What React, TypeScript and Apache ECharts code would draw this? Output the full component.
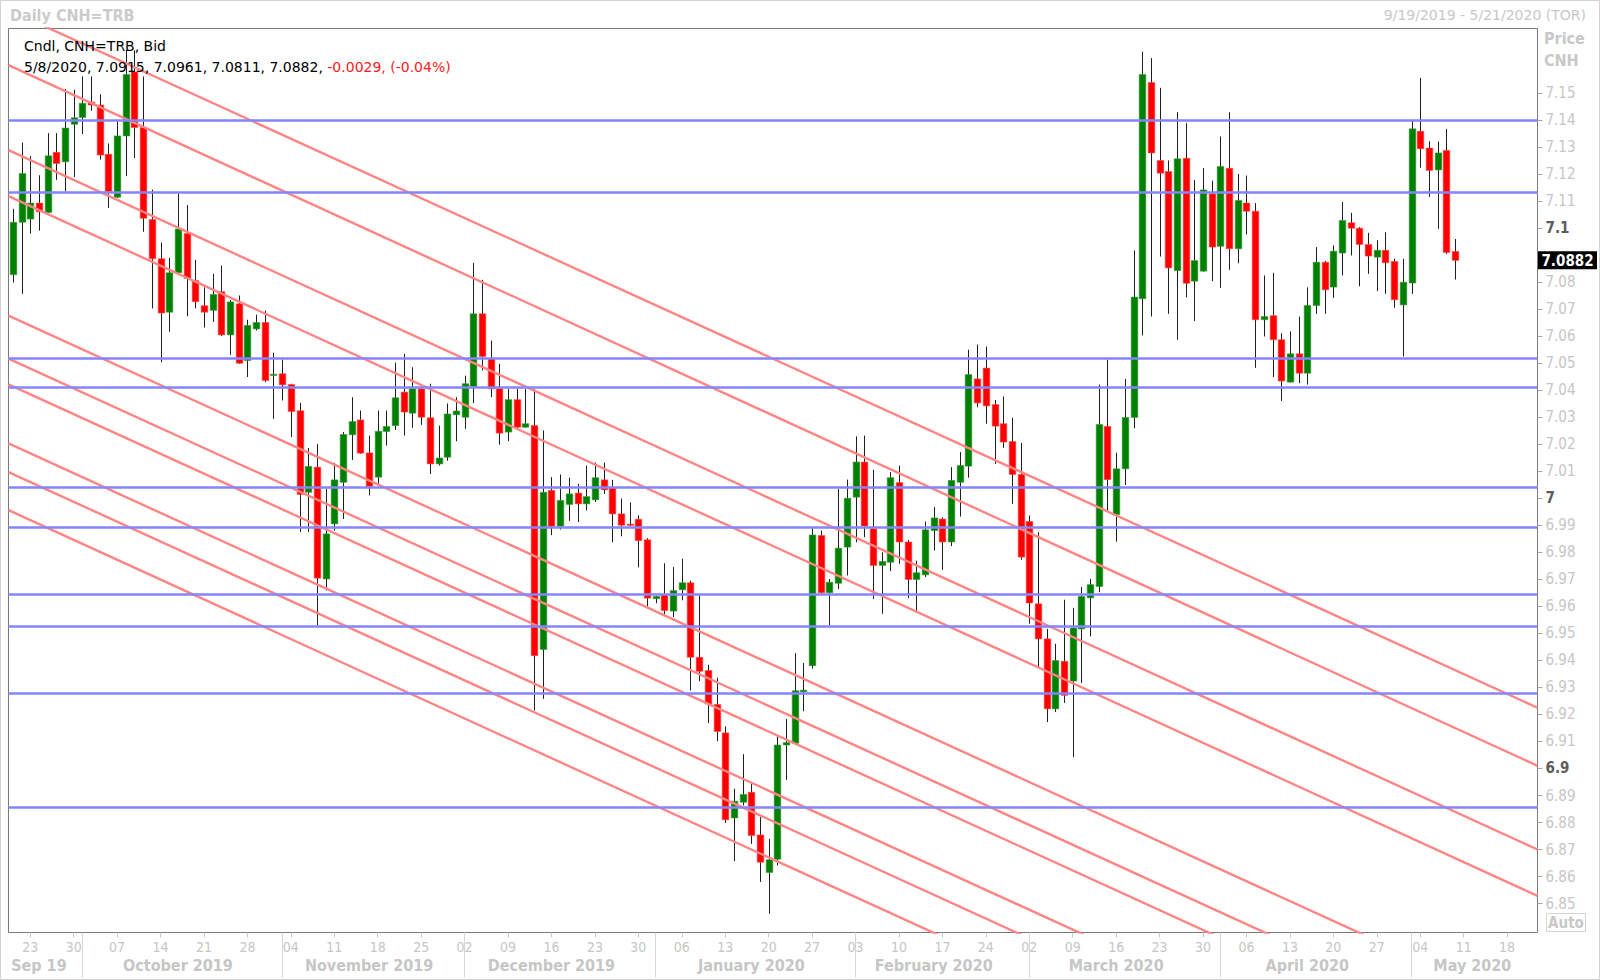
import React, { useEffect, useRef } from "react";
import * as echarts from "echarts";

// ---------------- data ----------------
const START_DATE = "2019-09-19";
const END_DATE = "2020-05-21";

const openP = [
  7.0829, 7.1023, 7.1035, 7.1094, 7.1059, 7.1282, 7.1247, 7.1386, 7.1411, 7.1468,
  7.1457, 7.1275, 7.1116, 7.1343, 7.1580, 7.1374, 7.1033, 7.0888, 7.0690, 7.0836,
  7.0981, 7.0807, 7.0714, 7.0697, 7.0766, 7.0606, 7.0721, 7.0511, 7.0628, 7.0652,
  7.0458, 7.0462, 7.0422, 7.0325, 7.0023, 7.0116, 6.9702, 6.9906, 7.0060, 7.0236,
  7.0291, 7.0169, 7.0079, 7.0248, 7.0270, 7.0394, 7.0316, 7.0406, 7.0299, 7.0128,
  7.0153, 7.0310, 7.0301, 7.0415, 7.0684, 7.0517, 7.0406, 7.0246, 7.0366, 7.0264,
  7.0270, 6.9441, 7.0030, 6.9897, 6.9978, 7.0020, 6.9980, 6.9995, 7.0069, 7.0039,
  6.9943, 6.9905, 6.9923, 6.9847, 6.9629, 6.9643, 6.9583, 6.9662, 6.9688, 6.9412,
  6.9363, 6.9237, 6.9132, 6.8817, 6.8875, 6.8912, 6.8754, 6.8615, 6.8664, 6.9087,
  6.9093, 6.9284, 6.9381, 6.9863, 6.9651, 6.9686, 6.9820, 7.0005, 7.0135, 6.9888,
  6.9752, 6.9764, 7.0059, 6.9839, 6.9700, 6.9717, 6.9881, 6.9924, 6.9839, 7.0060,
  7.0120, 7.0443, 7.0483, 7.0348, 7.0277, 7.0211, 7.0089, 6.9915, 6.9610, 6.9480,
  6.9221, 6.9397, 6.9324, 6.9517, 6.9632, 6.9674, 7.0267, 6.9940, 7.0110, 7.0300,
  7.0740, 7.1541, 7.1252, 7.1211, 7.0844, 7.1260, 7.0805, 7.0842, 7.1128, 7.0934,
  7.1223, 7.0925, 7.1094, 7.1064, 7.0662, 7.0677, 7.0588, 7.0431, 7.0536, 7.0464,
  7.0715, 7.0875, 7.0783, 7.0909, 7.1021, 7.1001, 7.0941, 7.0894, 7.0919, 7.0878,
  7.0717, 7.0798, 7.1360, 7.1298, 7.1217, 7.1289, 7.0915,
];

const highP = [
  7.1073, 7.1318, 7.1268, 7.1197, 7.1353, 7.1353, 7.1517, 7.1514, 7.1563, 7.1563,
  7.1497, 7.1315, 7.1396, 7.1660, 7.1660, 7.1563, 7.1144, 7.0948, 7.0891, 7.1130,
  7.1087, 7.0884, 7.0782, 7.0832, 7.0863, 7.0735, 7.0752, 7.0662, 7.0681, 7.0696,
  7.0540, 7.0515, 7.0425, 7.0354, 7.0187, 7.0202, 7.0036, 7.0132, 7.0246, 7.0375,
  7.0326, 7.0233, 7.0326, 7.0326, 7.0503, 7.0536, 7.0486, 7.0410, 7.0425, 7.0270,
  7.0352, 7.0375, 7.0455, 7.0872, 7.0810, 7.0585, 7.0499, 7.0406, 7.0406, 7.0406,
  7.0406, 7.0252, 7.0079, 7.0089, 7.0077, 7.0054, 7.0122, 7.0133, 7.0133, 7.0069,
  7.0000, 6.9985, 6.9938, 6.9853, 6.9640, 6.9760, 6.9746, 6.9777, 6.9696, 6.9641,
  6.9384, 6.9336, 6.9156, 6.8925, 6.9053, 6.8943, 6.8820, 6.8739, 6.9121, 6.9183,
  6.9427, 6.9391, 6.9890, 6.9881, 6.9702, 7.0035, 7.0070, 7.0230, 7.0233, 7.0106,
  6.9801, 7.0098, 7.0122, 6.9847, 6.9770, 6.9915, 6.9968, 6.9930, 7.0116, 7.0172,
  7.0551, 7.0570, 7.0563, 7.0365, 7.0378, 7.0299, 7.0206, 6.9937, 6.9875, 6.9517,
  6.9462, 6.9625, 6.9595, 6.9672, 6.9702, 7.0422, 7.0514, 7.0170, 7.0443, 7.0919,
  7.1655, 7.1631, 7.1521, 7.1252, 7.1431, 7.1390, 7.1180, 7.1224, 7.1177, 7.1341,
  7.1431, 7.1202, 7.1196, 7.1094, 7.0826, 7.0836, 7.0612, 7.0619, 7.0674, 7.0782,
  7.0931, 7.0880, 7.0937, 7.1098, 7.1058, 7.1005, 7.0984, 7.0956, 7.0986, 7.0888,
  7.0888, 7.1402, 7.1558, 7.1323, 7.1322, 7.1369, 7.0961,
];

const lowP = [
  7.0800, 7.0758, 7.0981, 7.0992, 7.1056, 7.1180, 7.1137, 7.1191, 7.1350, 7.1436,
  7.1255, 7.1076, 7.1113, 7.1194, 7.1261, 7.0988, 7.0704, 7.0505, 7.0618, 7.0832,
  7.0675, 7.0704, 7.0633, 7.0654, 7.0602, 7.0532, 7.0499, 7.0450, 7.0622, 7.0431,
  7.0295, 7.0363, 7.0227, 6.9876, 6.9876, 6.9530, 6.9659, 6.9881, 6.9924, 7.0143,
  7.0165, 7.0011, 7.0054, 7.0196, 7.0254, 7.0233, 7.0262, 7.0273, 7.0091, 7.0122,
  7.0140, 7.0212, 7.0258, 7.0353, 7.0474, 7.0375, 7.0199, 7.0212, 7.0260, 7.0262,
  6.9215, 6.9258, 6.9864, 6.9885, 6.9917, 6.9913, 6.9956, 6.9987, 7.0017, 6.9838,
  6.9860, 6.9897, 6.9745, 6.9600, 6.9612, 6.9568, 6.9561, 6.9623, 6.9289, 6.9323,
  6.9168, 6.9101, 6.8798, 6.8657, 6.8863, 6.8721, 6.8580, 6.8462, 6.8641, 6.8958,
  6.9090, 6.9212, 6.9370, 6.9647, 6.9530, 6.9665, 6.9715, 6.9838, 6.9857, 6.9628,
  6.9573, 6.9731, 6.9758, 6.9631, 6.9579, 6.9709, 6.9807, 6.9736, 6.9824, 6.9933,
  7.0077, 7.0338, 7.0277, 7.0128, 7.0188, 6.9980, 6.9773, 6.9536, 6.9376, 6.9172,
  6.9209, 6.9243, 6.9042, 6.9316, 6.9489, 6.9653, 6.9950, 6.9840, 7.0050, 7.0260,
  7.0604, 7.0674, 7.0896, 7.0684, 7.0588, 7.0745, 7.0657, 7.0840, 7.0805, 7.0780,
  7.0847, 7.0871, 7.0978, 7.0484, 7.0600, 7.0450, 7.0361, 7.0430, 7.0427, 7.0422,
  7.0684, 7.0684, 7.0743, 7.0826, 7.0900, 7.0786, 7.0832, 7.0768, 7.0758, 7.0706,
  7.0526, 7.0758, 7.1225, 7.1117, 7.0999, 7.0905, 7.0811,
];

const closeP = [
  7.1023, 7.1204, 7.1094, 7.1062, 7.1269, 7.1241, 7.1372, 7.1410, 7.1464, 7.1457,
  7.1272, 7.1137, 7.1343, 7.1570, 7.1374, 7.1038, 7.0888, 7.0687, 7.0836, 7.0998,
  7.0815, 7.0729, 7.0690, 7.0756, 7.0606, 7.0728, 7.0501, 7.0641, 7.0652, 7.0437,
  7.0460, 7.0421, 7.0322, 7.0015, 7.0119, 6.9705, 6.9869, 7.0069, 7.0237, 7.0285,
  7.0168, 7.0044, 7.0249, 7.0267, 7.0373, 7.0320, 7.0406, 7.0301, 7.0128, 7.0150,
  7.0313, 7.0324, 7.0425, 7.0684, 7.0526, 7.0406, 7.0242, 7.0366, 7.0264, 7.0277,
  6.9418, 7.0023, 6.9897, 6.9993, 7.0017, 6.9980, 7.0007, 7.0077, 7.0032, 6.9943,
  6.9901, 6.9902, 6.9844, 6.9631, 6.9637, 6.9585, 6.9659, 6.9688, 6.9412, 6.9360,
  6.9239, 6.9137, 6.8810, 6.8879, 6.8904, 6.8752, 6.8653, 6.8662, 6.9087, 6.9096,
  6.9288, 6.9290, 6.9865, 6.9651, 6.9690, 6.9816, 7.0001, 7.0135, 6.9898, 6.9752,
  6.9767, 7.0077, 6.9839, 6.9700, 6.9725, 6.9884, 6.9928, 6.9839, 7.0067, 7.0122,
  7.0459, 7.0354, 7.0343, 7.0268, 7.0209, 7.0089, 6.9783, 6.9613, 6.9480, 6.9221,
  6.9400, 6.9271, 6.9520, 6.9637, 6.9681, 7.0274, 7.0070, 7.0110, 7.0300, 7.0746,
  7.1570, 7.1280, 7.1205, 7.0854, 7.1258, 7.0797, 7.0881, 7.1143, 7.0931, 7.1230,
  7.0925, 7.1104, 7.1064, 7.0662, 7.0674, 7.0588, 7.0435, 7.0536, 7.0464, 7.0715,
  7.0875, 7.0773, 7.0916, 7.1030, 7.1001, 7.0941, 7.0898, 7.0919, 7.0873, 7.0736,
  7.0801, 7.1369, 7.1295, 7.1215, 7.1280, 7.0911, 7.0882,
];

// horizontal support / resistance levels (blue)
const levelLines = [7.14, 7.1133, 7.0521, 7.0411, 7.0042, 6.9894, 6.9645, 6.9527, 6.928, 6.8858];

// parallel downward trend lines (red): value at the left edge and at the right edge of the plot
const trendLeft = [7.181, 7.1605, 7.129, 7.112, 7.0677, 7.0518, 7.0423, 7.0204, 7.0098, 6.9957];
const trendRight = [6.9225, 6.901, 6.87, 6.8528, 6.809, 6.7931, 6.7836, 6.7617, 6.7511, 6.737];

// y axis
const Y_MIN = 6.83926;
const Y_MAX = 7.17407;
const yTickValues = [
  6.85, 6.86, 6.87, 6.88, 6.89, 6.9, 6.91, 6.92, 6.93, 6.94, 6.95, 6.96, 6.97, 6.98, 6.99,
  7.0, 7.01, 7.02, 7.03, 7.04, 7.05, 7.06, 7.07, 7.08, 7.1, 7.11, 7.12, 7.13, 7.14, 7.15,
];

const monthNames = [
  "Sep 19", "October 2019", "November 2019", "December 2019", "January 2020",
  "February 2020", "March 2020", "April 2020", "May 2020",
];

const lastPrice = 7.0882;
const titleText = "Daily CNH=TRB";
const rangeText = "9/19/2019 - 5/21/2020 (TOR)";
const legendLine1 = "Cndl, CNH=TRB, Bid";
const legendDate = "5/8/2020";
const legendChange = "-0.0029, (-0.04%)";

// ---------------- helpers ----------------
function weekdays(start: string, end: string): string[] {
  const out: string[] = [];
  const d = new Date(start + "T00:00:00Z");
  const e = new Date(end + "T00:00:00Z");
  while (d <= e) {
    const wd = d.getUTCDay();
    if (wd !== 0 && wd !== 6) out.push(d.toISOString().slice(0, 10));
    d.setUTCDate(d.getUTCDate() + 1);
  }
  return out;
}

const FONT = "'DejaVu Sans', sans-serif";
const FONT_C = "'DejaVu Sans Condensed', 'DejaVu Sans', sans-serif";
const GREY_TXT = "#c6c6c6";

const GRID_LEFT = 8.5;
const GRID_RIGHT = 62.5;
const GRID_TOP = 28.5;
const GRID_BOTTOM = 47.5;
const W = 1600;
const H = 980;

function buildOption() {
  const dates = weekdays(START_DATE, END_DATE);
  const N = dates.length;
  const isMonday = (s: string) => new Date(s + "T00:00:00Z").getUTCDay() === 1;

  // month groups
  const groups: { start: number; end: number }[] = [];
  dates.forEach((s, i) => {
    const key = s.slice(0, 7);
    if (i === 0 || key !== dates[i - 1].slice(0, 7)) groups.push({ start: i, end: i });
    else groups[groups.length - 1].end = i;
  });
  const monthStart = new Set(groups.slice(1).map((g) => g.start));
  const monthMid = new Map<number, number>();
  groups.forEach((g, k) => monthMid.set(Math.floor((g.start + g.end) / 2), k));

  const candleData = openP.map((o, i) => [i, o, closeP[i], lowP[i], highP[i]]);

  const candleSeries: any = {
    type: "custom",
    name: "CNH=TRB",
    xAxisIndex: 0,
    yAxisIndex: 0,
    clip: true,
    z: 2,
    silent: true,
    encode: { x: 0, y: [1, 2, 3, 4] },
    data: candleData,
    renderItem: (params: any, api: any) => {
      const x = api.value(0);
      const o = api.value(1);
      const c = api.value(2);
      const l = api.value(3);
      const h = api.value(4);
      const pO = api.coord([x, o]);
      const pC = api.coord([x, c]);
      const pL = api.coord([x, l]);
      const pH = api.coord([x, h]);
      const w = api.size([1, 0])[0] * 0.76;
      const up = c >= o;
      const top = Math.min(pO[1], pC[1]);
      const ht = Math.max(1.2, Math.abs(pO[1] - pC[1]));
      const cx = Math.round(pO[0]) + 0.5;
      return {
        type: "group",
        children: [
          {
            type: "line",
            shape: { x1: cx, y1: pH[1], x2: cx, y2: pL[1] },
            style: { stroke: "#1e1e1e", lineWidth: 1 },
          },
          {
            type: "rect",
            shape: { x: cx - w / 2, y: top, width: w, height: ht },
            style: { fill: up ? "#008000" : "#ff0000", stroke: up ? "#3a9a3a" : "#ff4a4a", lineWidth: 0.6 },
          },
        ],
      };
    },
  };

  const trendSeries: any[] = trendLeft.map((lv, k) => ({
    type: "line",
    name: "trend" + k,
    xAxisIndex: 1,
    yAxisIndex: 0,
    data: [
      [-0.5, lv],
      [N - 0.5, trendRight[k]],
    ],
    symbol: "none",
    silent: true,
    clip: true,
    z: 3,
    lineStyle: { color: "#ff8585", width: 2.4 },
  }));

  trendSeries[0].markLine = {
    silent: true,
    symbol: ["none", "none"],
    animation: false,
    precision: 4,
    z: 4,
    label: { show: false },
    lineStyle: { color: "#8585ff", width: 2.6, type: "solid" },
    data: levelLines.map((v) => ({ yAxis: v })),
  };

  const isMajor = (v: number) => Math.abs(v * 10 - Math.round(v * 10)) < 1e-6;

  return {
    animation: false,
    backgroundColor: "#ffffff",
    grid: {
      left: GRID_LEFT,
      right: GRID_RIGHT,
      top: GRID_TOP,
      bottom: GRID_BOTTOM,
      show: true,
      borderColor: "#7a7a7a",
      borderWidth: 1,
      backgroundColor: "transparent",
      containLabel: false,
      outerBoundsMode: "none",
    },
    xAxis: [
      {
        type: "category",
        data: dates,
        boundaryGap: true,
        position: "bottom",
        axisLine: { show: false, onZero: false },
        splitLine: { show: false },
        axisTick: {
          show: true,
          alignWithLabel: true,
          interval: (i: number, v: string) => isMonday(v),
          length: 5,
          lineStyle: { color: "#c8c8c8", width: 1 },
        },
        axisLabel: {
          show: true,
          interval: (i: number, v: string) => isMonday(v),
          formatter: (v: string) => v.slice(8, 10),
          color: GREY_TXT,
          fontSize: 14,
          fontFamily: FONT_C,
          margin: 7,
        },
      },
      {
        type: "value",
        min: -0.5,
        max: N - 0.5,
        show: false,
        axisLine: { onZero: false },
        splitLine: { show: false },
      },
      {
        type: "category",
        data: dates,
        boundaryGap: true,
        position: "bottom",
        axisLine: { show: false, onZero: false },
        splitLine: { show: false },
        axisTick: {
          show: true,
          alignWithLabel: true,
          interval: (i: number) => monthStart.has(i),
          length: 45,
          lineStyle: { color: "#d6d6d6", width: 1 },
        },
        axisLabel: {
          show: true,
          interval: (i: number) => monthMid.has(i),
          formatter: (v: string, i: number) => monthNames[monthMid.get(i) ?? 0] ?? "",
          color: GREY_TXT,
          fontSize: 16,
          fontWeight: "bold",
          fontFamily: FONT_C,
          margin: 25,
        },
      },
    ],
    yAxis: [
      {
        type: "value",
        position: "right",
        min: Y_MIN,
        max: Y_MAX,
        scale: true,
        axisLine: { show: false, onZero: false },
        splitLine: { show: false },
        axisTick: {
          show: true,
          customValues: yTickValues,
          length: 5,
          lineStyle: { color: "#a8a8a8" },
        },
        axisLabel: {
          show: true,
          customValues: yTickValues,
          margin: 8,
          formatter: (v: number) =>
            isMajor(v) ? `{b|${String(Number(v.toFixed(1)))}}` : `{n|${v.toFixed(2)}}`,
          rich: {
            b: { color: "#5c5c5c", fontWeight: "bold", fontSize: 15, fontFamily: FONT_C },
            n: { color: GREY_TXT, fontSize: 15, fontFamily: FONT_C },
          },
        },
      },
    ],
    series: [candleSeries, ...trendSeries],
  };
}

function buildGraphic(py: number) {
  const last = openP.length - 1;
  const legendLine2 =
    `{k|${legendDate}, ${openP[last].toFixed(4)}, ${highP[last].toFixed(4)}, ${lowP[last].toFixed(4)}, ${closeP[last].toFixed(4)}, }` +
    `{r|${legendChange}}`;
  const boxX = W - GRID_RIGHT + 0.5;
  return [
    {
      type: "rect",
      silent: true,
      z: -10,
      shape: { x: 0.5, y: 0.5, width: W - 1, height: H - 1 },
      style: { fill: "none", stroke: "#d2d2d2", lineWidth: 1 },
    },
    {
      type: "text",
      silent: true,
      x: 10,
      y: 15,
      style: {
        text: titleText,
        fill: "#cbcbcb",
        fontSize: 16,
        fontWeight: "bold",
        fontFamily: FONT_C,
        align: "left",
        verticalAlign: "middle",
      },
    },
    {
      type: "text",
      silent: true,
      x: 1586,
      y: 15,
      style: {
        text: rangeText,
        fill: "#c8c8c8",
        fontSize: 14,
        fontFamily: FONT,
        align: "right",
        verticalAlign: "middle",
      },
    },
    {
      type: "text",
      silent: true,
      z: 10,
      x: 24,
      y: 46,
      style: {
        text: legendLine1,
        fill: "#000000",
        fontSize: 14,
        fontFamily: FONT,
        align: "left",
        verticalAlign: "middle",
      },
    },
    {
      type: "text",
      silent: true,
      z: 10,
      x: 24,
      y: 67,
      style: {
        text: legendLine2,
        align: "left",
        verticalAlign: "middle",
        rich: {
          k: { fill: "#000000", color: "#000000", fontSize: 14, fontFamily: FONT },
          r: { fill: "#ff1a1a", color: "#ff1a1a", fontSize: 14, fontFamily: FONT },
        },
      },
    },
    {
      type: "text",
      silent: true,
      x: 1544,
      y: 38,
      style: {
        text: "Price",
        fill: "#c8c8c8",
        fontSize: 16,
        fontWeight: "bold",
        fontFamily: FONT_C,
        align: "left",
        verticalAlign: "middle",
      },
    },
    {
      type: "text",
      silent: true,
      x: 1544,
      y: 60,
      style: {
        text: "CNH",
        fill: "#c8c8c8",
        fontSize: 16,
        fontWeight: "bold",
        fontFamily: FONT_C,
        align: "left",
        verticalAlign: "middle",
      },
    },
    {
      type: "rect",
      silent: true,
      shape: { x: 1546.5, y: 913.5, width: 39, height: 18 },
      style: { fill: "#ffffff", stroke: "#d4d4d4", lineWidth: 1 },
    },
    {
      type: "text",
      silent: true,
      x: 1566,
      y: 923,
      style: {
        text: "Auto",
        fill: "#c8c8c8",
        fontSize: 15,
        fontWeight: "bold",
        fontFamily: FONT_C,
        align: "center",
        verticalAlign: "middle",
      },
    },
    {
      type: "rect",
      silent: true,
      z: 20,
      shape: { x: boxX, y: py - 9, width: 59, height: 18 },
      style: { fill: "#000000" },
    },
    {
      type: "text",
      silent: true,
      z: 21,
      x: boxX + 29.5,
      y: py + 0.5,
      style: {
        text: lastPrice.toFixed(4),
        fill: "#ffffff",
        fontSize: 15,
        fontWeight: "bold",
        fontFamily: FONT_C,
        align: "center",
        verticalAlign: "middle",
      },
    },
  ];
}

export default function App() {
  const ref = useRef<HTMLDivElement>(null);
  useEffect(() => {
    const el = ref.current;
    if (!el) return;
    const chart = echarts.init(el, null, { renderer: "svg" });
    chart.setOption(buildOption() as any);
    let py = chart.convertToPixel({ yAxisIndex: 0 }, lastPrice) as any;
    if (typeof py !== "number" || !isFinite(py)) py = 260;
    chart.setOption({ graphic: buildGraphic(py) } as any);
    return () => chart.dispose();
  }, []);
  return (
    <div
      ref={ref}
      style={{ position: "absolute", left: 0, top: 0, width: W, height: H, background: "#ffffff" }}
    />
  );
}
